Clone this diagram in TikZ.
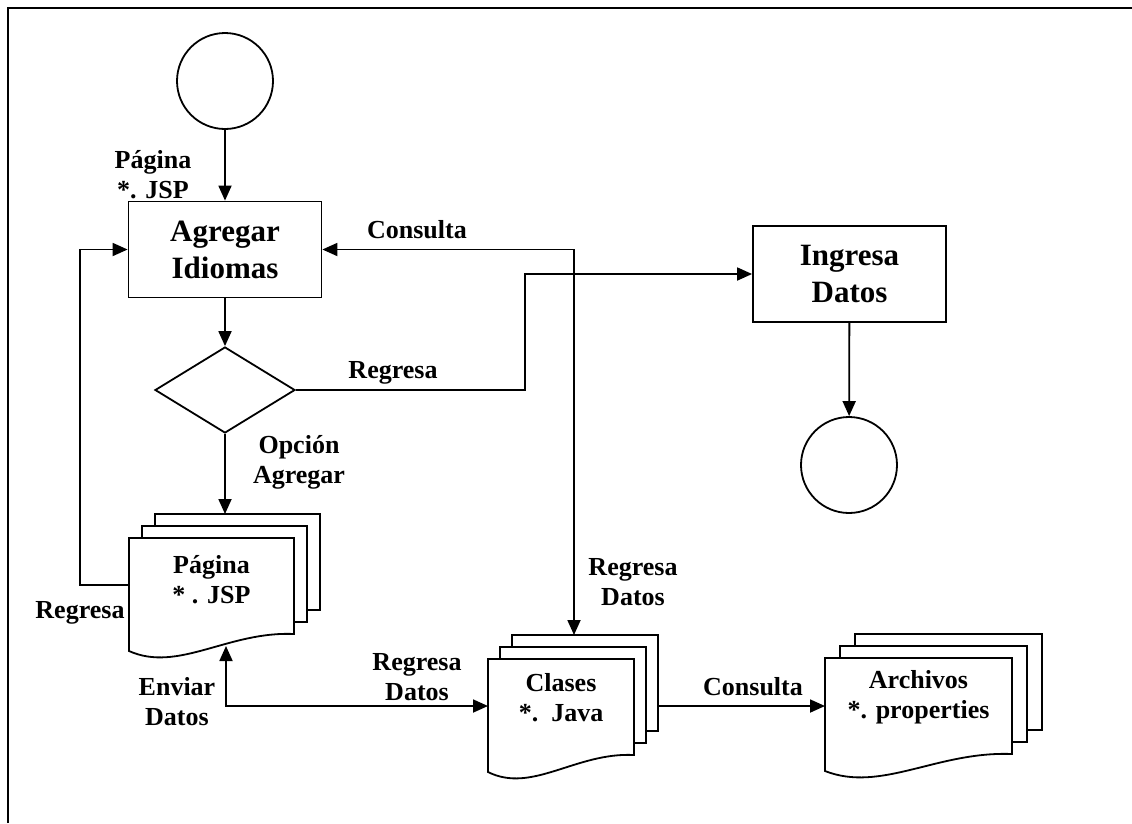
\documentclass[tikz,border=0pt]{standalone}
\usepackage{fontspec}
\setmainfont{Liberation Serif}
\usetikzlibrary{shapes.geometric,arrows.meta}

\begin{document}
\begin{tikzpicture}[x=1pt,y=-1pt,line width=1.8pt]
\tikzstyle{flecha}=[-{Triangle[length=15pt,width=13pt]}]
\tikzstyle{dobleflecha}=[{Triangle[length=15pt,width=13pt]}-{Triangle[length=15pt,width=13pt]}]
\tikzstyle{etiqueta}=[font=\fontsize{26}{30}\selectfont\bfseries, align=center, inner sep=0pt]
\tikzstyle{caja}=[draw, rectangle, font=\fontsize{31}{37}\selectfont\bfseries, align=center, minimum width=193pt, minimum height=96pt]
\tikzstyle{terminal}=[draw, circle, minimum size=96pt, inner sep=0pt]

\useasboundingbox (0,0) rectangle (1132,823);
\draw (8,823) -- (8,8) -- (1132,8);

\draw (225,81) node[terminal] (ini) {};
\draw (225,249.5) node[caja] (agr) {Agregar\\Idiomas};
\draw (225,390) node[draw, diamond, minimum width=140pt, minimum height=86pt, inner sep=0pt] (dec) {};
\draw (849.5,274) node[caja] (ing) {Ingresa\\Datos};
\draw (849,465) node[terminal] (fin) {};

\draw[fill=white] (155,514) rectangle (320,610);
\draw[fill=white] (142,526) rectangle (307,622);
\draw[fill=white] (129,538) -- (294,538) -- (294,634) .. controls (228,631) and (178,673) .. (129,651) -- cycle;
\draw (211.5,580) node[etiqueta] (pag) {Página\\* . JSP};

\draw[fill=white] (512,635) rectangle (658,731);
\draw[fill=white] (500,647) rectangle (646,743);
\draw[fill=white] (488,659) -- (634,659) -- (634,755) .. controls (576,752) and (532,794) .. (488,772) -- cycle;
\draw (561,698) node[etiqueta] (cla) {Clases\\*.\ \ Java};

\draw[fill=white] (855,634) rectangle (1042,730);
\draw[fill=white] (840,646) rectangle (1027,742);
\draw[fill=white] (825,658) -- (1012,658) -- (1012,754) .. controls (937,751) and (881,793) .. (825,771) -- cycle;
\draw (918.5,697) node[etiqueta] (arc) {Archivos\\*. properties};

\coordinate (pagW) at (129,585);
\coordinate (pagT) at (225,514);
\coordinate (pagB) at (226,646);
\coordinate (claT) at (574,635);
\coordinate (claW) at (488,706);
\coordinate (claE) at (658,706);
\coordinate (arcW) at (825,706);

\draw[flecha] (ini) -- (agr);
\draw[flecha] (agr) -- (dec);
\draw[flecha] (dec) -- (pagT);
\draw[flecha] (pagW) -- ++(-49,0) |- (agr.west);
\draw[flecha] (dec.east) -- ++(229,0) |- (ing.west);
\draw[dobleflecha] (agr.east) -| (claT);
\draw[dobleflecha] (pagB) |- (claW);
\draw[flecha] (claE) -- (arcW);
\draw[flecha] (ing) -- (fin);

\draw (153,175) node[etiqueta] (e1) {Página\\*. JSP};
\draw (417,230) node[etiqueta] (e2) {Consulta};
\draw (393,373) node[etiqueta] (e3) {Regresa};
\draw (299,462) node[etiqueta] (e4) {Opción\\Agregar};
\draw (80,613) node[etiqueta] (e5) {Regresa};
\draw (633,582) node[etiqueta] (e6) {Regresa\\Datos};
\draw (417,677) node[etiqueta] (e7) {Regresa\\Datos};
\draw (177,702) node[etiqueta] (e8) {Enviar\\Datos};
\draw (753,687) node[etiqueta] (e9) {Consulta};

\end{tikzpicture}
\end{document}
